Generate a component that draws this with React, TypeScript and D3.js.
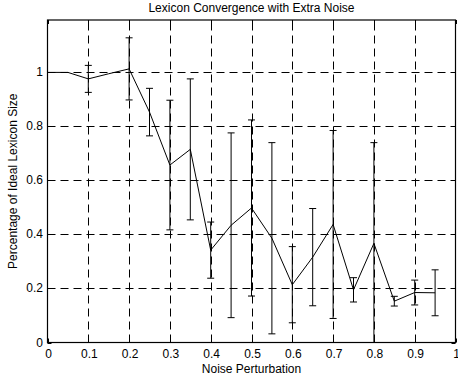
import React, { useEffect, useRef } from 'react';
import * as d3 from 'd3';

// noise levels (x) and mean lexicon size with std deviation
const noise = [0, 0.05, 0.1, 0.15, 0.2, 0.25, 0.3, 0.35, 0.4, 0.45, 0.5, 0.55, 0.6, 0.65, 0.7, 0.75, 0.8, 0.85, 0.9, 0.95];
const meanSize = [1.0, 1.0, 0.976, 0.995, 1.013, 0.853, 0.657, 0.715, 0.342, 0.434, 0.498, 0.386, 0.214, 0.316, 0.437, 0.195, 0.367, 0.153, 0.185, 0.184];
const stdSize = [0, 0, 0.05, 0, 0.115, 0.088, 0.24, 0.261, 0.104, 0.342, 0.326, 0.354, 0.141, 0.18, 0.348, 0.045, 0.373, 0.018, 0.046, 0.085];
const xTicks = [0, 0.1, 0.2, 0.3, 0.4, 0.5, 0.6, 0.7, 0.8, 0.9, 1];
const yTicks = [0, 0.2, 0.4, 0.6, 0.8, 1];
const yMax = 1.194;

export default function App() {
  const ref = useRef<SVGSVGElement>(null);

  useEffect(() => {
    const width = 458;
    const height = 381;
    const left = 47.5, right = 455.5, top = 20, bottom = 342.5;

    const svg = d3.select(ref.current);
    svg.selectAll('*').remove();
    svg.append('rect').attr('width', width).attr('height', height).attr('fill', 'white');

    const x = d3.scaleLinear().domain([0, 1]).range([left, right]);
    const y = d3.scaleLinear().domain([0, yMax]).range([bottom, top]);

    const font = 'Liberation Sans, Arial, Helvetica, sans-serif';

    // grid (dashed)
    const grid = svg.append('g').attr('stroke', 'black').attr('stroke-width', 1).attr('stroke-dasharray', '8,5');
    xTicks.filter(t => t > 0 && t < 1).forEach(t => {
      grid.append('line').attr('x1', Math.round(x(t)) + 0.5).attr('x2', Math.round(x(t)) + 0.5)
        .attr('y1', bottom).attr('y2', top);
    });
    yTicks.filter(t => t > 0).forEach(t => {
      grid.append('line').attr('y1', Math.round(y(t)) + 0.5).attr('y2', Math.round(y(t)) + 0.5)
        .attr('x1', left).attr('x2', right);
    });

    // clip for data
    svg.append('clipPath').attr('id', 'plotclip').append('rect')
      .attr('x', left).attr('y', top).attr('width', right - left).attr('height', bottom - top);

    const data = noise.map((n, i) => ({ x: n, m: meanSize[i], s: stdSize[i] }));
    const plot = svg.append('g').attr('clip-path', 'url(#plotclip)');

    // error bars
    const cap = 3.5;
    data.forEach(d => {
      if (d.s <= 0) return;
      const px = x(d.x);
      const g = plot.append('g').attr('stroke', 'black').attr('stroke-width', 1).attr('fill', 'none');
      g.append('line').attr('x1', px).attr('x2', px).attr('y1', y(d.m - d.s)).attr('y2', y(d.m + d.s));
      g.append('line').attr('x1', px - cap).attr('x2', px + cap).attr('y1', y(d.m + d.s)).attr('y2', y(d.m + d.s));
      g.append('line').attr('x1', px - cap).attr('x2', px + cap).attr('y1', y(d.m - d.s)).attr('y2', y(d.m - d.s));
    });

    // mean line
    const line = d3.line<{ x: number; m: number }>().x(d => x(d.x)).y(d => y(d.m));
    plot.append('path').datum(data).attr('d', line).attr('fill', 'none')
      .attr('stroke', 'black').attr('stroke-width', 1);

    // box
    svg.append('rect').attr('x', left).attr('y', top).attr('width', right - left).attr('height', bottom - top)
      .attr('fill', 'none').attr('stroke', 'black').attr('stroke-width', 1.2);

    // ticks on all sides
    const tk = svg.append('g').attr('stroke', 'black').attr('stroke-width', 1);
    xTicks.forEach(t => {
      const px = Math.round(x(t)) + 0.5;
      tk.append('line').attr('x1', px).attr('x2', px).attr('y1', bottom).attr('y2', bottom - 4);
      tk.append('line').attr('x1', px).attr('x2', px).attr('y1', top).attr('y2', top + 4);
    });
    yTicks.forEach(t => {
      const py = Math.round(y(t)) + 0.5;
      tk.append('line').attr('x1', left).attr('x2', left + 4).attr('y1', py).attr('y2', py);
      tk.append('line').attr('x1', right).attr('x2', right - 4).attr('y1', py).attr('y2', py);
    });

    // tick labels
    svg.append('g').selectAll('text').data(xTicks).enter().append('text')
      .attr('x', d => x(d) + 1).attr('y', 358)
      .attr('text-anchor', 'middle').attr('font-family', font).attr('font-size', 12)
      .text(d => String(d));
    svg.append('g').selectAll('text').data(yTicks).enter().append('text')
      .attr('x', 43).attr('y', d => y(d) + 4)
      .attr('text-anchor', 'end').attr('font-family', font).attr('font-size', 12)
      .text(d => String(d));

    // titles
    svg.append('text').attr('x', (left + right) / 2).attr('y', 12)
      .attr('text-anchor', 'middle').attr('font-family', font).attr('font-size', 12)
      .text('Lexicon Convergence with Extra Noise');
    svg.append('text').attr('x', (left + right) / 2).attr('y', 373)
      .attr('text-anchor', 'middle').attr('font-family', font).attr('font-size', 12)
      .text('Noise Perturbation');
    svg.append('text').attr('transform', `translate(17,${(top + bottom) / 2}) rotate(-90)`)
      .attr('text-anchor', 'middle').attr('font-family', font).attr('font-size', 12)
      .text('Percentage of Ideal Lexicon Size');
  }, []);

  return (
    <svg ref={ref} width={458} height={381}
      style={{ position: 'absolute', left: 0, top: 0, display: 'block' }} />
  );
}
